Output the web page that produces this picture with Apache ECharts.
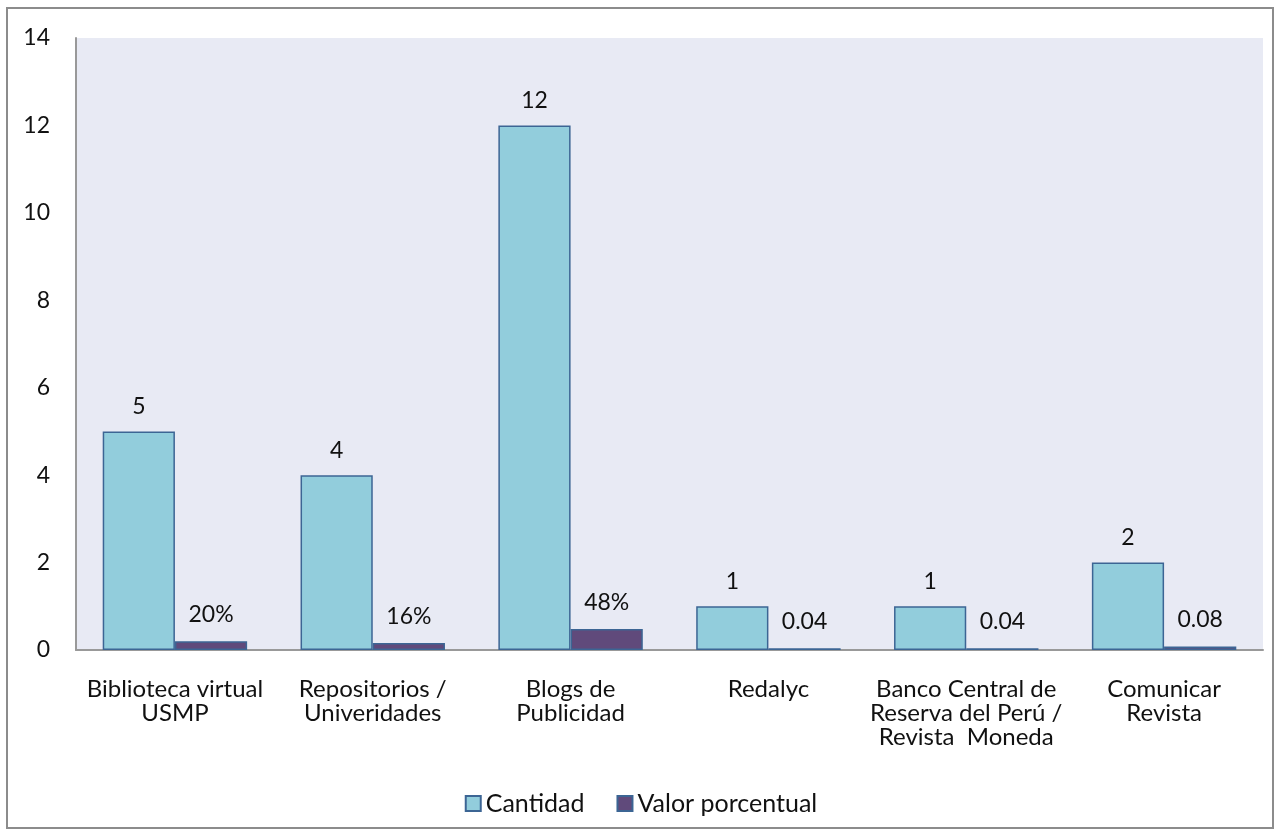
<!DOCTYPE html>
<html><head><meta charset="utf-8">
<script src="https://cdn.jsdelivr.net/npm/echarts@6/dist/echarts.min.js"></script>
<style>
html,body{margin:0;padding:0;background:#fff;}
#frame{position:absolute;left:6px;top:7px;width:1268px;height:822px;border:2px solid #8c8c8c;box-sizing:border-box;}
#c{position:absolute;left:0;top:0;width:1282px;height:838px;}
</style></head>
<body>
<div id="frame"></div>
<div id="c"></div>
<script>
const categories = ["Biblioteca virtual\nUSMP","Repositorios /\nUniveridades","Blogs de\nPublicidad","Redalyc","Banco Central de\nReserva del Perú /\nRevista  Moneda","Comunicar\nRevista"];
const cantidad = [5,4,12,1,1,2];
const porcentual = [0.2,0.16,0.48,0.04,0.04,0.08];
const porcentualLabels = ["20%","16%","48%","0.04","0.04","0.08"];
const yTicks = [0,2,4,6,8,10,12,14];

const font = "Lato, 'Open Sans', sans-serif";
const chart = echarts.init(document.getElementById('c'));
chart.setOption({
  animation:false,
  textStyle:{fontFamily:font},
  grid:{left:76,right:19,top:38,bottom:188,show:true,backgroundColor:'#E8EAF4',borderWidth:0},
  legend:{
    bottom:17,left:'center',itemWidth:15,itemHeight:15,itemGap:32,
    textStyle:{fontFamily:font,fontSize:25,color:'#111'},
    data:[{name:'Cantidad',icon:'rect'},{name:'Valor porcentual',icon:'rect'}]
  },
  xAxis:{
    type:'category',data:categories,
    axisLine:{lineStyle:{color:'#999',width:2}},
    axisTick:{show:false},
    axisLabel:{fontFamily:font,fontSize:24,color:'#111',lineHeight:24,margin:27,interval:0}
  },
  yAxis:{
    type:'value',min:0,max:14,interval:2,
    axisLine:{show:true,lineStyle:{color:'#999',width:2}},
    axisTick:{show:false},
    splitLine:{show:false},
    axisLabel:{fontFamily:font,fontSize:23,color:'#111',margin:26,
      formatter:v=>yTicks.includes(v)?String(v):''}
  },
  series:[
    {name:'Cantidad',type:'bar',data:cantidad,barGap:'0%',barCategoryGap:'27%',
     itemStyle:{color:'#92CDDC',borderColor:'#3C6594',borderWidth:1.5},
     label:{show:true,position:'top',distance:13,fontFamily:font,fontSize:23,color:'#111'}},
    {name:'Valor porcentual',type:'bar',data:porcentual,
     itemStyle:{color:'#604A7B',borderColor:'#3C6594',borderWidth:1.5},
     label:{show:true,position:'top',distance:15,fontFamily:font,fontSize:23,color:'#111',
       formatter:p=>porcentualLabels[p.dataIndex]}}
  ]
});
</script>
</body></html>
